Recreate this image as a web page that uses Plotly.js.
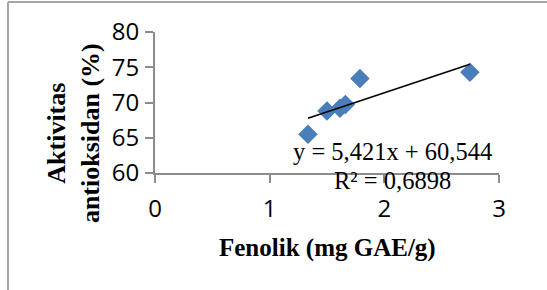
<!DOCTYPE html>
<html>
<head>
<meta charset="utf-8">
<script src="https://cdn.plot.ly/plotly-3.0.1.min.js"></script>
<style>
  html, body { margin: 0; padding: 0; background: #fff; }
  #chart { width: 547px; height: 290px; }
</style>
</head>
<body>
<div id="chart"></div>
<script>
// Data
const fenolik = [1.334, 1.50, 1.613, 1.66, 1.787, 2.746];          // mg GAE/g
const aktivitas = [65.5, 68.8, 69.2, 69.7, 73.4, 74.3];            // %
const trendSlope = 5.421;
const trendIntercept = 60.544;
const rSquared = "0,6898";
const xTicks = [0, 1, 2, 3];
const yTicks = [60, 65, 70, 75, 80];

const xMin = Math.min(...fenolik), xMax = Math.max(...fenolik);
const trendX = [xMin, xMax];
const trendY = trendX.map(x => trendSlope * x + trendIntercept);

const fmt = v => v.toFixed(3).replace('.', ',');
const eqText = "y = " + fmt(trendSlope) + "x + " + fmt(trendIntercept);
const r2Text = "R² = " + rSquared;

const tickFont = { family: "Open Sans, sans-serif", size: 24, color: "#000" };
const serif = "Liberation Serif, Times New Roman, serif";
const titleFont = { family: serif, size: 25, color: "#000" };
const eqFont = { family: serif, size: 24.5, color: "#000" };

const traces = [
  {
    x: fenolik, y: aktivitas, type: "scatter", mode: "markers",
    marker: { symbol: "diamond", size: 15, color: "#4a7ebb" },
    hoverinfo: "skip", cliponaxis: false
  },
  {
    x: trendX, y: trendY, type: "scatter", mode: "lines",
    line: { color: "#000", width: 1.5 },
    hoverinfo: "skip", cliponaxis: false
  }
];

const layout = {
  width: 547, height: 290,
  margin: { l: 155, r: 48, t: 32, b: 117 },
  paper_bgcolor: "#fff", plot_bgcolor: "#fff",
  showlegend: false,
  xaxis: {
    range: [0, 3], tickvals: xTicks, ticktext: xTicks.map(String),
    showgrid: false, zeroline: false, showline: true,
    linecolor: "#8c8c8c", linewidth: 2,
    ticks: "outside", ticklen: 8, tickwidth: 2, tickcolor: "#8c8c8c",
    tickfont: tickFont, ticklabelstandoff: 5
  },
  yaxis: {
    range: [60, 80], tickvals: yTicks, ticktext: yTicks.map(String),
    showgrid: false, zeroline: false, showline: true,
    linecolor: "#8c8c8c", linewidth: 2,
    ticks: "outside", ticklen: 8, tickwidth: 2, tickcolor: "#8c8c8c",
    tickfont: tickFont, ticklabelstandoff: 1
  },
  annotations: [
    {
      xref: "paper", yref: "paper", x: -0.235, y: 0.284,
      text: "<b>Aktivitas<br>antioksidan (%)</b>", textangle: -90,
      showarrow: false, font: { family: serif, size: 26, color: "#000" },
      xanchor: "center", yanchor: "middle"
    },
    {
      xref: "paper", yref: "paper", x: 0.5, y: -0.532,
      text: "<b>Fenolik (mg GAE/g)</b>",
      showarrow: false, font: titleFont,
      xanchor: "center", yanchor: "middle"
    },
    {
      xref: "paper", yref: "paper", x: 0.689, y: 0.149,
      text: eqText, showarrow: false, font: eqFont,
      xanchor: "center", yanchor: "middle", borderpad: 0
    },
    {
      xref: "paper", yref: "paper", x: 0.689, y: -0.052,
      text: r2Text, showarrow: false, font: eqFont,
      xanchor: "center", yanchor: "middle", borderpad: 0
    }
  ],
  shapes: [
    { type: "line", xref: "paper", yref: "paper", x0: -0.4273, x1: 2, y0: 1.2128, y1: 1.2128,
      line: { color: "#a6a6a6", width: 2 } },
    { type: "line", xref: "paper", yref: "paper", x0: -0.4273, x1: -0.4273, y0: 1.2128, y1: -2,
      line: { color: "#a6a6a6", width: 2 } }
  ]
};

Plotly.newPlot("chart", traces, layout, { staticPlot: true, displayModeBar: false });
</script>
</body>
</html>
